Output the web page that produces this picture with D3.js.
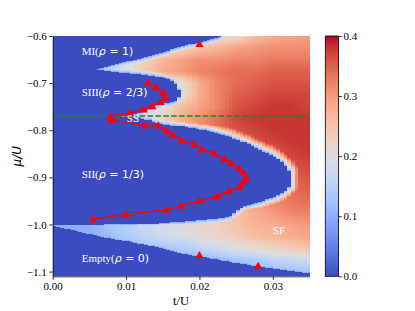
<!DOCTYPE html>
<html>
<head>
<meta charset="utf-8">
<script src="https://cdn.jsdelivr.net/npm/d3@7"></script>
<style>
  body { margin: 0; background: #fff; }
</style>
</head>
<body>
<svg id="chart" width="415" height="311"></svg>
<script>
// ---- data ----
const tTicks = [0, 0.01, 0.02, 0.03];
const muTicks = [-0.6, -0.7, -0.8, -0.9, -1.0, -1.1];
const cbTicks = [0, 0.1, 0.2, 0.3, 0.4];

// insulating lobes (rho_s = 0), [t, mu] vertices
const lobeMI = [[0, -0.6], [0.0235, -0.6], [0.021, -0.609], [0.0185, -0.619], [0.016, -0.630],
  [0.0135, -0.641], [0.011, -0.652], [0.0085, -0.662], [0.0058, -0.671], [0, -0.675]];
const lobeSIII = [[0, -0.671], [0.0058, -0.671], [0.009, -0.677], [0.0125, -0.682], [0.0145, -0.686],
  [0.016, -0.693], [0.0168, -0.703], [0.0173, -0.715], [0.0174, -0.727], [0.017, -0.736],
  [0.0162, -0.741], [0.015, -0.742], [0.0137, -0.750], [0.0124, -0.762], [0.0096, -0.771], [0, -0.775]];
const lobeSII = [[0, -0.771], [0.0096, -0.771], [0.0115, -0.774], [0.0133, -0.779], [0.0146, -0.786],
  [0.016, -0.789], [0.0178, -0.793], [0.0195, -0.797], [0.0215, -0.803], [0.0242, -0.814],
  [0.0269, -0.831], [0.0283, -0.842], [0.0296, -0.851], [0.0308, -0.862], [0.0318, -0.876],
  [0.0324, -0.888], [0.0326, -0.899], [0.0325, -0.910], [0.0322, -0.921], [0.0314, -0.932],
  [0.0305, -0.941], [0.029, -0.948], [0.0272, -0.956], [0.0258, -0.963], [0.0248, -0.975],
  [0.0242, -0.983], [0.022, -0.988], [0.018, -0.993], [0.0135, -0.998], [0.007, -1.001], [0, -1.003]];
const lobeEmpty = [[0, -1.0035], [0.005, -1.02], [0.01, -1.036], [0.0135, -1.046], [0.02, -1.069],
  [0.025, -1.082], [0.028, -1.089], [0.035, -1.103], [0.035, -1.12], [0, -1.12]];

// superfluid density samples
const gridT = [0, 0.0025, 0.005, 0.0075, 0.01, 0.0125, 0.015, 0.0175, 0.02, 0.0225, 0.025, 0.0275, 0.03, 0.0325, 0.035];
const gridMu = [-0.6, -0.625, -0.65, -0.675, -0.7, -0.725, -0.75, -0.775, -0.8, -0.825, -0.85,
  -0.875, -0.9, -0.925, -0.95, -0.975, -1.0, -1.025, -1.05, -1.075, -1.1];
const rhoGrid = [
  [.15, .15, .15, .15, .15, .15, .18, .19, .19, .20, .22, .26, .28, .29, .30],
  [.15, .15, .15, .15, .15, .17, .19, .22, .25, .27, .29, .30, .31, .31, .31],
  [.12, .12, .12, .14, .17, .22, .27, .29, .31, .31, .32, .32, .33, .33, .33],
  [.12, .12, .12, .15, .20, .25, .28, .30, .32, .33, .34, .34, .35, .35, .35],
  [.12, .12, .12, .15, .18, .20, .20, .20, .28, .32, .34, .35, .36, .36, .36],
  [.12, .12, .12, .14, .16, .18, .18, .20, .28, .32, .35, .36, .37, .37, .37],
  [.12, .12, .12, .13, .15, .16, .20, .26, .29, .32, .36, .37, .38, .38, .37],
  [.12, .12, .12, .12, .14, .17, .22, .28, .31, .34, .37, .38, .38, .38, .38],
  [.12, .12, .12, .12, .14, .16, .19, .25, .31, .34, .36, .37, .38, .38, .38],
  [.12, .12, .12, .12, .12, .13, .15, .20, .27, .32, .35, .36, .37, .38, .38],
  [.12, .12, .12, .12, .12, .13, .15, .17, .23, .29, .33, .35, .36, .37, .38],
  [.12, .12, .12, .12, .12, .13, .15, .17, .21, .27, .31, .34, .35, .36, .37],
  [.12, .12, .12, .12, .12, .13, .15, .17, .20, .25, .29, .32, .34, .35, .36],
  [.12, .12, .12, .12, .12, .13, .15, .17, .20, .24, .28, .31, .33, .34, .35],
  [.12, .12, .12, .12, .12, .13, .15, .17, .20, .23, .27, .30, .32, .33, .34],
  [.12, .12, .12, .12, .13, .14, .16, .18, .20, .22, .25, .28, .30, .32, .32],
  [.10, .10, .10, .13, .15, .17, .19, .20, .22, .23, .25, .27, .28, .29, .30],
  [.10, .10, .10, .11, .14, .16, .18, .19, .21, .22, .24, .26, .27, .28, .29],
  [.10, .10, .10, .10, .10, .12, .13, .14, .16, .18, .20, .21, .23, .24, .25],
  [.10, .10, .10, .10, .10, .10, .10, .10, .10, .11, .13, .14, .16, .17, .18],
  [.10, .10, .10, .10, .10, .10, .10, .10, .10, .10, .10, .10, .11, .12, .13]
];
// light band along the lobe edges: density vs distance (px) from the blue
const fringeDist = [0, 1, 2, 3, 4, 6, 8, 11];
const fringeRho = [0.06, 0.10, 0.14, 0.18, 0.22, 0.28, 0.33, 0.40];

// transition points (red triangles, joined)
const boundT = [0.0130, 0.0141, 0.0151, 0.0154, 0.0147, 0.0136, 0.0124, 0.0105, 0.0079, 0.0079,
  0.0126, 0.0144, 0.0155, 0.0164, 0.0176, 0.0193, 0.0204, 0.0220, 0.0234, 0.0243, 0.0254,
  0.0260, 0.0264, 0.0260, 0.0255, 0.0240, 0.0224, 0.0200, 0.0175, 0.0155, 0.0100, 0.0055];
const boundMu = [-0.699, -0.709, -0.720, -0.731, -0.740, -0.749, -0.756, -0.764, -0.770, -0.778,
  -0.790, -0.790, -0.801, -0.810, -0.822, -0.829, -0.841, -0.849, -0.861, -0.870, -0.881,
  -0.891, -0.901, -0.909, -0.920, -0.929, -0.940, -0.950, -0.960, -0.969, -0.979, -0.989];
// lone triangles
const extraT = [0.020, 0.020, 0.028];
const extraMu = [-0.617, -1.065, -1.088];
const ssMu = -0.770;

const phaseLabels = [
  { serif: "MI(", math: " = 1)", t: 0.00395, mu: -0.640 },
  { serif: "SIII(", math: " = 2/3)", t: 0.00395, mu: -0.7275 },
  { serif: "SII(", math: " = 1/3)", t: 0.00395, mu: -0.901 },
  { serif: "Empty(", math: " = 0)", t: 0.00395, mu: -1.0805 }
];
const plainLabels = [
  { text: "SS", t: 0.0101, mu: -0.7825 },
  { text: "SF", t: 0.0300, mu: -1.0205 }
];

// matplotlib coolwarm
const cwStops = [[59,76,192],[68,90,204],[77,104,215],[87,117,225],[98,130,234],[108,142,241],
  [119,154,247],[130,165,251],[141,176,254],[152,185,255],[163,194,255],[174,201,253],
  [184,208,249],[194,213,244],[204,217,238],[213,219,230],[221,221,221],[229,216,209],
  [236,211,197],[241,204,185],[245,196,173],[247,187,160],[247,177,148],[247,166,135],
  [244,154,123],[241,141,111],[236,127,99],[229,112,88],[222,96,77],[213,80,66],
  [203,62,56],[192,40,47],[180,4,38]].map(c => `rgb(${c[0]},${c[1]},${c[2]})`);

// ---- drawing ----
const svg = d3.select("#chart");
const serif = "'Liberation Serif', 'Times New Roman', serif";
const sans = "'DejaVu Sans', sans-serif";

const x = d3.scaleLinear().domain([0, 0.035]).range([52.7, 309.5]);
const y = d3.scaleLinear().domain([-0.6, -1.11]).range([36, 276.3]);
const vmax = 0.4;
const color = d3.scaleLinear()
  .domain(cwStops.map((c, i) => i / (cwStops.length - 1) * vmax))
  .range(cwStops).clamp(true);
const fringe = d3.scaleLinear().domain(fringeDist).range(fringeRho).clamp(true);

function sampleGrid(t, mu) {
  let ci = Math.max(0, Math.min(gridT.length - 2, d3.bisectRight(gridT, t) - 1));
  let fx = Math.max(0, Math.min(1, (t - gridT[ci]) / (gridT[ci + 1] - gridT[ci])));
  let ri = 0;
  while (ri < gridMu.length - 2 && gridMu[ri + 1] > mu) ri++;
  let fy = Math.max(0, Math.min(1, (gridMu[ri] - mu) / (gridMu[ri] - gridMu[ri + 1])));
  const top = rhoGrid[ri][ci] * (1 - fx) + rhoGrid[ri][ci + 1] * fx;
  const bot = rhoGrid[ri + 1][ci] * (1 - fx) + rhoGrid[ri + 1][ci + 1] * fx;
  return top * (1 - fy) + bot * fy;
}

// heatmap cells
const dT = 0.0005, dMu = 0.002;
const nT = Math.round(0.035 / dT), nMu = Math.round(0.51 / dMu);
const lobes = [lobeMI, lobeSIII, lobeSII, lobeEmpty];
const mask = [];
for (let i = 0; i < nT; i++) {
  mask.push([]);
  const t = (i + 0.5) * dT;
  for (let j = 0; j < nMu; j++) {
    const mu = -0.6 - (j + 0.5) * dMu;
    mask[i].push(lobes.some(p => d3.polygonContains(p, [t, mu])));
  }
}
const cw = x(dT) - x(0), ch = y(-0.6 - dMu) - y(-0.6);
const cells = [];
for (let i = 0; i < nT; i++) {
  for (let j = 0; j < nMu; j++) {
    const t = (i + 0.5) * dT, mu = -0.6 - (j + 0.5) * dMu;
    let v = 0;
    if (!mask[i][j]) {
      let dmin = 99;
      for (let a = -3; a <= 3; a++) {
        const ii = i + a;
        if (ii < 0 || ii >= nT) continue;
        for (let b = -12; b <= 12; b++) {
          const jj = j + b;
          if (jj < 0 || jj >= nMu || !mask[ii][jj]) continue;
          const d = Math.hypot(a * cw, b * ch);
          if (d < dmin) dmin = d;
        }
      }
      v = Math.min(sampleGrid(t, mu), fringe(dmin));
    }
    cells.push({ t0: i * dT, mu0: -0.6 - j * dMu, v });
  }
}

svg.append("g")
  .attr("shape-rendering", "crispEdges")
  .selectAll("rect")
  .data(cells)
  .join("rect")
  .attr("x", d => x(d.t0))
  .attr("y", d => y(d.mu0))
  .attr("width", cw + 0.01)
  .attr("height", ch + 0.01)
  .attr("fill", d => color(d.v));

// SS line
svg.append("line")
  .attr("x1", x(0)).attr("x2", x(0.035))
  .attr("y1", y(ssMu)).attr("y2", y(ssMu))
  .attr("stroke", "#1a8a1a")
  .attr("stroke-width", 1.5)
  .attr("stroke-dasharray", "5.5,2.4");

// transition line with triangles
const pts = boundT.map((t, i) => [t, boundMu[i]]);
svg.append("path")
  .datum(pts)
  .attr("fill", "none")
  .attr("stroke", "#ff0000")
  .attr("stroke-width", 1.5)
  .attr("d", d3.line().x(d => x(d[0])).y(d => y(d[1])));

const tri = d3.symbol().type(d3.symbolTriangle).size(30);
const allTri = pts.concat(extraT.map((t, i) => [t, extraMu[i]]));
svg.append("g").selectAll("path")
  .data(allTri)
  .join("path")
  .attr("transform", d => `translate(${x(d[0])},${y(d[1]) + 0.6})`)
  .attr("d", tri)
  .attr("fill", "#ff0000");

// phase labels
phaseLabels.forEach(l => {
  const tx = svg.append("text")
    .attr("x", x(l.t)).attr("y", y(l.mu))
    .attr("fill", "#fff")
    .attr("font-size", 11);
  tx.append("tspan").attr("font-family", serif).text(l.serif);
  tx.append("tspan").attr("font-family", sans).attr("font-style", "italic").text("ρ");
  tx.append("tspan").attr("font-family", sans).text(l.math);
});
plainLabels.forEach(l => {
  svg.append("text")
    .attr("x", x(l.t)).attr("y", y(l.mu))
    .attr("fill", "#fff")
    .attr("font-family", serif)
    .attr("font-size", 11)
    .text(l.text);
});

// axes
const fmt1 = d3.format(".1f"), fmt2 = d3.format(".2f");
const gx = svg.append("g")
  .attr("transform", `translate(0,${y(-1.11)})`)
  .call(d3.axisBottom(x).tickValues(tTicks).tickFormat(fmt2).tickSize(3.5).tickPadding(2.5).tickSizeOuter(0));
const gy = svg.append("g")
  .attr("transform", `translate(${x(0)},0)`)
  .call(d3.axisLeft(y).tickValues(muTicks).tickFormat(fmt1).tickSize(3.5).tickPadding(2.5).tickSizeOuter(0));
[gx, gy].forEach(g => {
  g.selectAll("text").attr("font-family", serif).attr("font-size", 11).attr("fill", "#000");
  g.selectAll("line").attr("stroke", "#000").attr("stroke-width", 0.8);
  g.select(".domain").attr("stroke", "#000").attr("stroke-width", 0.8);
});

svg.append("text")
  .attr("x", (x(0) + x(0.035)) / 2).attr("y", 305)
  .attr("text-anchor", "middle")
  .attr("font-family", serif).attr("font-size", 12.5)
  .text("t/U");

svg.append("text")
  .attr("transform", `translate(21,${(y(-0.6) + y(-1.11)) / 2}) rotate(-90)`)
  .attr("text-anchor", "middle")
  .attr("font-family", sans).attr("font-style", "italic").attr("font-size", 12)
  .text("μ/U");

// colorbar
const cbX = 325.3, cbW = 13.2;
const cb = d3.scaleLinear().domain([0, vmax]).range([276.3, 36]);
const grad = svg.append("defs").append("linearGradient")
  .attr("id", "cw").attr("x1", 0).attr("y1", 1).attr("x2", 0).attr("y2", 0);
cwStops.forEach((c, i) => {
  grad.append("stop").attr("offset", i / (cwStops.length - 1)).attr("stop-color", c);
});
svg.append("rect")
  .attr("x", cbX).attr("y", cb(vmax))
  .attr("width", cbW).attr("height", cb(0) - cb(vmax))
  .attr("fill", "url(#cw)")
  .attr("stroke", "#000").attr("stroke-width", 0.8);
const gc = svg.append("g")
  .attr("transform", `translate(${cbX + cbW},0)`)
  .call(d3.axisRight(cb).tickValues(cbTicks).tickFormat(fmt1).tickSize(3.5).tickPadding(1.5).tickSizeOuter(0));
gc.select(".domain").remove();
gc.selectAll("text").attr("font-family", serif).attr("font-size", 11).attr("fill", "#000");
gc.selectAll("line").attr("stroke", "#000").attr("stroke-width", 0.8);
</script>
</body>
</html>
